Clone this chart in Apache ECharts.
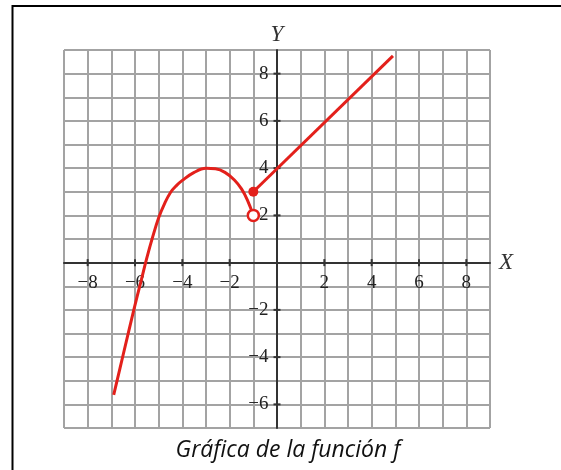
<!DOCTYPE html>
<html>
<head>
<meta charset="utf-8">
<script src="https://cdn.jsdelivr.net/npm/echarts@6/dist/echarts.min.js"></script>
<style>
  html, body { margin: 0; padding: 0; background: #fff; }
  #chart { width: 561px; height: 470px; }
</style>
</head>
<body>
<div id="chart"></div>
<script>
// curva de f (tramo izquierdo, hasta el punto abierto)
const curveX = [-6.9, -6.5, -6.05, -5.75, -5.5, -5.25, -5.0, -4.75, -4.5, -4.25, -4.0, -3.5, -3.0, -2.6, -2.2, -1.8, -1.5, -1.25, -1.0]
const curveY = [-5.6, -3.9, -2.0, -0.8, 0.2, 1.1, 1.9, 2.5, 2.97, 3.26, 3.48, 3.82, 3.99, 3.97, 3.82, 3.5, 3.12, 2.65, 2.0]
// tramo recto
const lineX = [-1, 4.9]
const lineY = [3, 8.75]
// puntos
const closedPoint = [-1, 3]
const openPoint = [-1, 2]
// etiquetas de los ejes
const xTicks = [-8, -6, -4, -2, 2, 4, 6, 8]
const yTicks = [-6, -4, -2, 2, 4, 6, 8]

const red = '#e3201b'
const fmt = v => v < 0 ? '\u2212' + Math.abs(v) : String(v)
const tickFont = { fontFamily: 'Liberation Serif', fontSize: 19, color: '#222' }

const chart = echarts.init(document.getElementById('chart'), null, { renderer: 'canvas' })

chart.setOption({
  animation: false,
  backgroundColor: '#fff',
  title: {
    text: 'Gráfica de la función f',
    left: 283,
    top: 434,
    textAlign: 'center',
    textStyle: {
      fontFamily: 'Open Sans',
      fontStyle: 'italic',
      fontWeight: 'normal',
      fontSize: 23,
      color: '#111'
    }
  },
  graphic: [
    {
      type: 'rect',
      shape: { x: 12.5, y: 6, width: 600, height: 500 },
      style: { fill: 'none', stroke: '#000', lineWidth: 2 },
      z: 100
    }
  ],
  grid: { left: 64, top: 50, width: 426, height: 378 },
  xAxis: {
    type: 'value',
    min: -9,
    max: 9,
    interval: 1,
    name: 'X',
    nameGap: 9,
    nameTextStyle: { fontFamily: 'Liberation Serif', fontStyle: 'italic', fontSize: 23, color: '#333' },
    axisLine: { onZero: true, lineStyle: { color: '#333', width: 2 } },
    axisTick: { show: false },
    axisLabel: { show: false },
    splitLine: { show: true, lineStyle: { color: '#a3a3a3', width: 2 } }
  },
  yAxis: {
    type: 'value',
    min: -7,
    max: 9,
    interval: 1,
    name: 'Y',
    nameGap: 4,
    nameTextStyle: { fontFamily: 'Liberation Serif', fontStyle: 'italic', fontSize: 23, color: '#333' },
    axisLine: { onZero: true, lineStyle: { color: '#333', width: 2 } },
    axisTick: { show: false },
    axisLabel: { show: false },
    splitLine: { show: true, lineStyle: { color: '#a3a3a3', width: 2 } }
  },
  series: [
    {
      type: 'line',
      data: curveX.map((x, i) => [x, curveY[i]]),
      smooth: 0.4,
      showSymbol: false,
      lineStyle: { color: red, width: 3 },
      z: 3
    },
    {
      type: 'line',
      data: lineX.map((x, i) => [x, lineY[i]]),
      showSymbol: false,
      lineStyle: { color: red, width: 3 },
      z: 3
    },
    {
      type: 'scatter',
      data: [closedPoint],
      symbolSize: 10,
      itemStyle: { color: red, opacity: 1 },
      z: 4
    },
    {
      type: 'scatter',
      data: [openPoint],
      symbolSize: 11,
      itemStyle: { color: '#fff', borderColor: red, borderWidth: 2.5, opacity: 1 },
      z: 5
    },
    {
      // marcas y números del eje X
      type: 'scatter',
      data: xTicks.map(v => [v, 0]),
      symbol: 'rect',
      symbolSize: [2, 7],
      itemStyle: { color: '#333', opacity: 1 },
      label: { show: true, position: 'bottom', distance: 7, formatter: p => fmt(p.value[0]), ...tickFont },
      z: 2
    },
    {
      // marcas y números del eje Y
      type: 'scatter',
      data: yTicks.map(v => [0, v]),
      symbol: 'rect',
      symbolSize: [7, 2],
      itemStyle: { color: '#333', opacity: 1 },
      label: { show: true, position: 'left', distance: 5, formatter: p => fmt(p.value[1]), ...tickFont },
      z: 2
    }
  ]
})
</script>
</body>
</html>
